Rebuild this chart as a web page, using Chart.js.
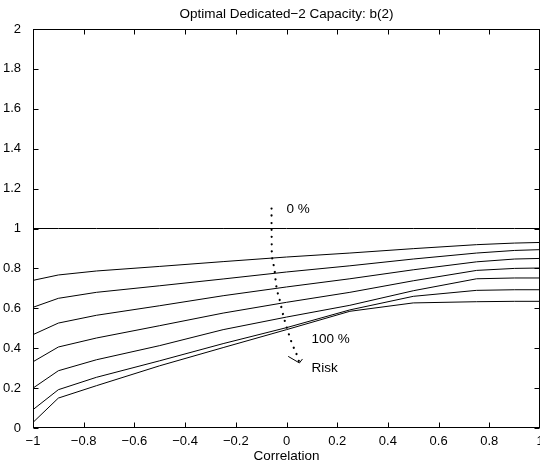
<!DOCTYPE html>
<html>
<head>
<meta charset="utf-8">
<script src="https://cdn.jsdelivr.net/npm/chart.js@4.4.0/dist/chart.umd.min.js"></script>
<style>
  html, body { margin: 0; padding: 0; background: #fff; }
  #wrap { width: 540px; height: 465px; }
</style>
</head>
<body>
<div id="wrap"><canvas id="chart" width="540" height="465"></canvas></div>
<script>
// correlation values where each curve was computed
const correlation = [-1, -0.9, -0.75, -0.5, -0.25, 0, 0.25, 0.5, 0.75, 0.9, 1];

// b(2) for increasing risk levels, 0 % first, 100 % last
const risk0   = [1, 1, 1, 1, 1, 1, 1, 1, 1, 1, 1];
const riskA   = [0.740, 0.767, 0.787, 0.810, 0.834, 0.857, 0.877, 0.899, 0.919, 0.927, 0.930];
const riskB   = [0.605, 0.650, 0.680, 0.713, 0.747, 0.782, 0.813, 0.847, 0.877, 0.890, 0.894];
const riskC   = [0.468, 0.526, 0.565, 0.613, 0.663, 0.707, 0.748, 0.793, 0.833, 0.847, 0.850];
const riskD   = [0.332, 0.406, 0.451, 0.513, 0.576, 0.630, 0.680, 0.738, 0.790, 0.800, 0.802];
const riskE   = [0.200, 0.287, 0.342, 0.413, 0.493, 0.556, 0.615, 0.688, 0.748, 0.752, 0.752];
const riskF   = [0.092, 0.192, 0.254, 0.337, 0.423, 0.503, 0.592, 0.660, 0.690, 0.693, 0.693];
const risk100 = [0.028, 0.150, 0.212, 0.312, 0.403, 0.493, 0.585, 0.627, 0.633, 0.635, 0.635];

// dotted "Risk" arrow
const arrowX = [-0.059, -0.059, -0.058, -0.050, -0.040, -0.026, -0.013, 0.003, 0.021, 0.043, 0.051];
const arrowY = [1.10, 1.00, 0.885, 0.814, 0.710, 0.638, 0.566, 0.496, 0.426, 0.359, 0.326];
const headLeftX = [0.0066, 0.051];
const headLeftY = [0.359, 0.326];
const headRightX = [0.063, 0.051];
const headRightY = [0.346, 0.326];

const xTicks = [-1, -0.8, -0.6, -0.4, -0.2, 0, 0.2, 0.4, 0.6, 0.8, 1];
const yTicks = [0, 0.2, 0.4, 0.6, 0.8, 1, 1.2, 1.4, 1.6, 1.8, 2];

// text annotations in data coordinates
const notes = [
  { text: '0 %', x: 0.0, y: 1.094 },
  { text: '100 %', x: 0.099, y: 0.446 },
  { text: 'Risk', x: 0.099, y: 0.297 }
];

const FONT = '"Liberation Sans", Arial, Helvetica, sans-serif';

function pairs(xs, ys) {
  return xs.map((x, i) => ({ x: x, y: ys[i] }));
}

function curve(ys) {
  return {
    data: pairs(correlation, ys),
    borderColor: '#000',
    borderWidth: 1,
    pointRadius: 0,
    showLine: true,
    tension: 0
  };
}

const datasets = [risk0, riskA, riskB, riskC, riskD, riskE, riskF, risk100].map(curve);

datasets.push({
  data: pairs(arrowX, arrowY),
  borderColor: '#000',
  borderWidth: 2.2,
  borderDash: [0.1, 7],
  borderCapStyle: 'round',
  pointRadius: 0,
  showLine: true,
  cubicInterpolationMode: 'monotone',
  tension: 0.4
});
datasets.push({ data: pairs(headLeftX, headLeftY), borderColor: '#000', borderWidth: 1, pointRadius: 0, showLine: true });
datasets.push({ data: pairs(headRightX, headRightY), borderColor: '#000', borderWidth: 1, pointRadius: 0, showLine: true });

// box, inward ticks and texts, matlab style
const framePlugin = {
  id: 'frame',
  afterDraw(chart) {
    const ctx = chart.ctx;
    const a = chart.chartArea;
    const xs = chart.scales.x, ys = chart.scales.y;
    const L = Math.round(a.left) + 0.5, R = Math.round(a.right) - 0.5;
    const T = Math.round(a.top) + 0.5, B = Math.round(a.bottom) - 0.5;
    ctx.save();
    ctx.strokeStyle = '#000';
    ctx.lineWidth = 1;
    ctx.strokeRect(L, T, R - L, B - T);
    ctx.beginPath();
    xTicks.forEach(v => {
      const px = Math.round(xs.getPixelForValue(v)) + 0.5;
      ctx.moveTo(px, B); ctx.lineTo(px, B - 5);
      ctx.moveTo(px, T); ctx.lineTo(px, T + 5);
    });
    yTicks.forEach(v => {
      const py = Math.round(ys.getPixelForValue(v)) + 0.5;
      ctx.moveTo(L, py); ctx.lineTo(L + 5, py);
      ctx.moveTo(R, py); ctx.lineTo(R - 5, py);
    });
    ctx.stroke();

    ctx.fillStyle = '#000';
    ctx.font = '13.5px ' + FONT;
    ctx.textAlign = 'center';
    ctx.textBaseline = 'middle';
    ctx.fillText('Optimal Dedicated\u22122 Capacity: b(2)', (a.left + a.right) / 2, 14);
    ctx.fillText('Correlation', (a.left + a.right) / 2, a.bottom + 28);

    ctx.textAlign = 'left';
    notes.forEach(n => {
      ctx.fillText(n.text, xs.getPixelForValue(n.x), ys.getPixelForValue(n.y));
    });
    ctx.restore();
  }
};

function fmt(v) {
  return String(Math.round(v * 10) / 10).replace('-', '\u2212');
}

new Chart(document.getElementById('chart'), {
  type: 'scatter',
  data: { datasets: datasets },
  options: {
    responsive: false,
    animation: false,
    events: [],
    layout: { padding: { top: 29, right: 0, left: 0, bottom: 0 } },
    plugins: { legend: { display: false }, tooltip: { enabled: false }, title: { display: false } },
    scales: {
      x: {
        type: 'linear',
        min: -1, max: 1,
        grid: { display: false },
        border: { display: false },
        afterBuildTicks(scale) { scale.ticks = xTicks.map(v => ({ value: v })); },
        afterFit(scale) { scale.height = 37; scale.paddingLeft = 0; scale.paddingRight = 0; },
        ticks: { color: '#000', font: { family: FONT, size: 13 }, padding: -2, maxRotation: 0, autoSkip: false, callback: fmt }
      },
      y: {
        type: 'linear',
        min: 0, max: 2,
        grid: { display: false },
        border: { display: false },
        afterBuildTicks(scale) { scale.ticks = yTicks.map(v => ({ value: v })); },
        afterFit(scale) { scale.width = 33; scale.paddingTop = 0; scale.paddingBottom = 0; },
        ticks: { color: '#000', font: { family: FONT, size: 13 }, padding: 4, autoSkip: false, callback: fmt }
      }
    }
  },
  plugins: [framePlugin]
});
</script>
</body>
</html>
